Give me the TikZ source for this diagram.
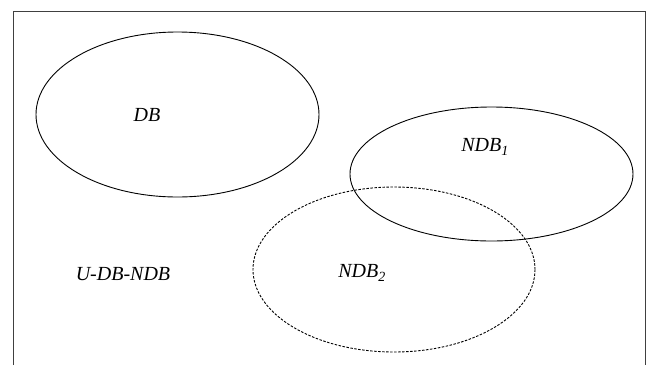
\documentclass[tikz,border=0pt]{standalone}
\usepackage{fontspec}
\setmainfont{Liberation Serif}
\usetikzlibrary{shapes.geometric}
\begin{document}
\begin{tikzpicture}[x=1pt,y=-1pt,
  setline/.style={line width=0.9pt,black},
  optline/.style={setline,dash pattern=on 2.5pt off 1.5pt},
  setlabel/.style={font=\fontsize{20}{24}\selectfont\itshape,inner sep=0pt}]
\useasboundingbox (0,0) rectangle (649,365);
% frame, open at the bottom
\draw[line width=0.9pt,black!75] (13,365) -- (13,11) -- (645,11) -- (645,365);
% sets
\draw[setline] (177.5,114.5) ellipse [x radius=141.5, y radius=82.5];
\draw[setline] (491.5,174) ellipse [x radius=141.5, y radius=67];
\draw[optline] (394,269.5) ellipse [x radius=141, y radius=82.5];
% labels
\node[setlabel] (db) at (147,115) {DB};
\node[setlabel] (ndb1) at (485,147) {NDB\textsubscript{1}};
\node[setlabel] (ndb2) at (362,273) {NDB\textsubscript{2}};
\node[setlabel] (udb) at (123,274) {U-DB-NDB};
\end{tikzpicture}
\end{document}
